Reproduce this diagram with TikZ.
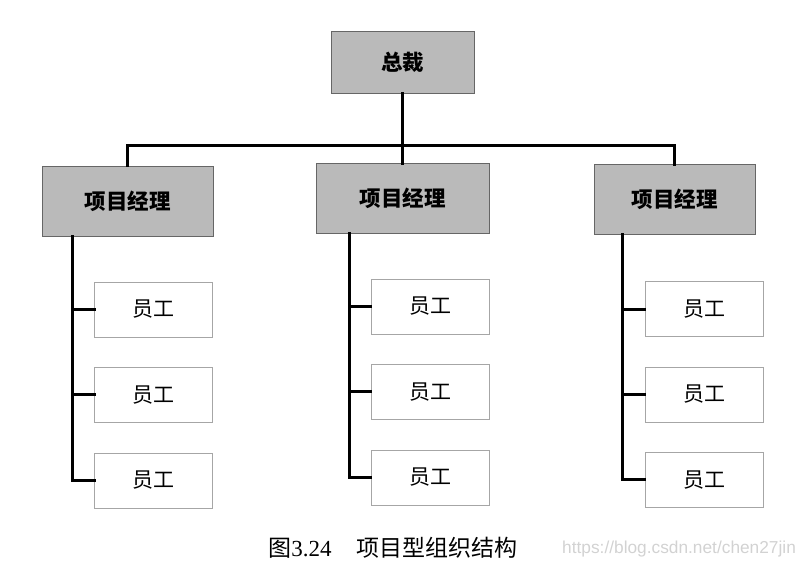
\documentclass[tikz,border=0pt]{standalone}
\usepackage{fontspec}
\setmainfont{Liberation Serif}
\newfontfamily\cjk{Noto Sans CJK SC}
\newfontfamily\wmfont{Liberation Sans}
\usepackage{tikz}
\usetikzlibrary{positioning,calc}
\tikzset{chief/.style={draw=gray!80!black, fill=black!27, minimum width=143pt, minimum height=62pt, inner sep=0pt, font=\cjk\bfseries\fontsize{21.5}{22}\selectfont}}
\tikzset{pmbox/.style={draw=gray!80!black, fill=black!27, minimum width=171pt, minimum height=70pt, inner sep=0pt, font=\cjk\bfseries\fontsize{21.5}{22}\selectfont}}
\tikzset{staff/.style={draw=gray!70, fill=white, minimum width=118pt, minimum height=55pt, inner sep=0pt, font=\cjk\fontsize{21}{21}\selectfont}}
\tikzset{link/.style={draw, line width=3pt, line cap=rect}}

\begin{document}
\begin{tikzpicture}
		[x=1pt, y=-1pt]
		\useasboundingbox (0,0) rectangle (808,571);
		\node[chief] (boss) at (402.5,62) {总裁};
		\node[pmbox] (pmL) at (127.5,201) {项目经理};
		\node[pmbox, minimum width=173pt] (pmM) at (402.5,198.5) {项目经理};
		\node[pmbox, minimum width=161pt] (pmR) at (674.5,199.5) {项目经理};
		\coordinate (bus) at (0,145);
		% staff under each manager
		\node[staff] (eL1) at (153.5,309.5) {员工};
		\node[staff, below=30pt of eL1] (eL2) {员工};
		\node[staff, below=30pt of eL2] (eL3) {员工};
		\node[staff] (eM1) at (430,306.5) {员工};
		\node[staff, below=30pt of eM1] (eM2) {员工};
		\node[staff, below=30pt of eM2] (eM3) {员工};
		\node[staff] (eR1) at (704,309) {员工};
		\node[staff, below=30pt of eR1] (eR2) {员工};
		\node[staff, below=30pt of eR2] (eR3) {员工};
		% connectors
		\draw[link] (boss.south) -- (pmM.north);
		\draw[link] (pmL.north) -- (pmL.north |- bus)
			-- (pmR.north |- bus) -- (pmR.north);
		\foreach \c/\dx in {L/31, M/34, R/29} {
			\coordinate (t\c) at ($(pm\c.south west)+(\dx,0)$);
			\draw[link] (t\c) |- (e\c3.west);
			\draw[link] (e\c1.west) -- (e\c1.west -| t\c);
			\draw[link] (e\c2.west) -- (e\c2.west -| t\c);
		}
		\node (cap) at (393,548)
			{\fontsize{23}{23}\selectfont{\cjk 图}3.24\hspace{25pt}{\cjk 项目型组织结构}};
		\node[anchor=west, text=gray!35, inner sep=0pt] (mark) at (562,549)
			{\wmfont\fontsize{17.3}{18}\selectfont https://blog.csdn.net/chen27jin};
\end{tikzpicture}
\end{document}
